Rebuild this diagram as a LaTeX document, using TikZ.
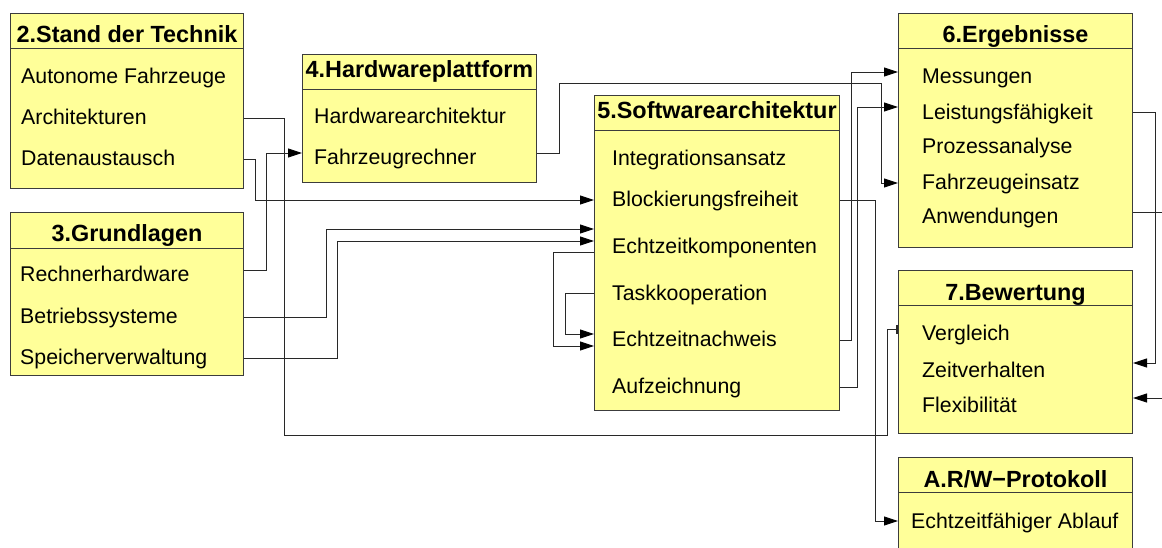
\documentclass[tikz,border=0pt]{standalone}
\usepackage{fontspec}
\setmainfont{Liberation Sans}
\usetikzlibrary{arrows.meta}
\definecolor{boxfill}{RGB}{255,255,153}
\definecolor{boxline}{RGB}{60,60,60}
\definecolor{conncol}{RGB}{40,40,40}
\begin{document}
\begin{tikzpicture}[x=1pt,y=-1pt,
  box/.style={draw=boxline, fill=boxfill, line width=1pt, anchor=north west, inner sep=0pt},
  sepline/.style={draw=boxline, line width=1pt},
  title/.style={anchor=base, inner sep=0pt, font=\fontsize{23.4}{26}\selectfont\bfseries},
  item/.style={anchor=base west, inner sep=0pt, font=\fontsize{21.3}{24}\selectfont},
  conn/.style={draw=conncol, line width=0.9pt},
  arr/.style={conn, -{Triangle[length=14pt,width=9pt,color=black]}},
  barend/.style={conn, -{Bar[width=9pt,line width=2pt]}}
]
\useasboundingbox (0,0) rectangle (1162,547);
\clip (0,0) rectangle (1162,547);

% Box 2
\node[box, minimum width=233pt, minimum height=175pt] (b2) at (10,13) {};
\draw[sepline] (b2.west |- 0,48) -- (b2.east |- 0,48);
\node[title] (t2) at (b2.north |- 0,42) {2.Stand der Technik};
\node[item] (b2a) at (21,83) {Autonome Fahrzeuge};
\node[item] (b2b) at (21,124) {Architekturen};
\node[item] (b2c) at (21,165) {Datenaustausch};

% Box 3
\node[box, minimum width=233pt, minimum height=163pt] (b3) at (10,212) {};
\draw[sepline] (b3.west |- 0,248) -- (b3.east |- 0,248);
\node[title] (t3) at (b3.north |- 0,241) {3.Grundlagen};
\node[item] (b3a) at (20,281) {Rechnerhardware};
\node[item] (b3b) at (20,323) {Betriebssysteme};
\node[item] (b3c) at (20,364) {Speicherverwaltung};

% Box 4
\node[box, minimum width=234pt, minimum height=128pt] (b4) at (302,54) {};
\draw[sepline] (b4.west |- 0,89) -- (b4.east |- 0,89);
\node[title] (t4) at (b4.north |- 0,77) {4.Hardwareplattform};
\node[item] (b4a) at (314,123) {Hardwarearchitektur};
\node[item] (b4b) at (314,164) {Fahrzeugrechner};

% Box 5
\node[box, minimum width=245pt, minimum height=315pt] (b5) at (594,95) {};
\draw[sepline] (b5.west |- 0,130) -- (b5.east |- 0,130);
\node[title] (t5) at (b5.north |- 0,118) {5.Softwarearchitektur};
\node[item] (b5a) at (612,165) {Integrationsansatz};
\node[item] (b5b) at (612,206) {Blockierungsfreiheit};
\node[item] (b5c) at (612,253) {Echtzeitkomponenten};
\node[item] (b5d) at (612,300) {Taskkooperation};
\node[item] (b5e) at (612,346) {Echtzeitnachweis};
\node[item] (b5f) at (612,393) {Aufzeichnung};

% Box 6
\node[box, minimum width=234pt, minimum height=234pt] (b6) at (898,13) {};
\draw[sepline] (b6.west |- 0,48) -- (b6.east |- 0,48);
\node[title] (t6) at (b6.north |- 0,42) {6.Ergebnisse};
\node[item] (b6a) at (922,83) {Messungen};
\node[item] (b6b) at (922,119) {Leistungsfähigkeit};
\node[item] (b6c) at (922,153) {Prozessanalyse};
\node[item] (b6d) at (922,189) {Fahrzeugeinsatz};
\node[item] (b6e) at (922,223) {Anwendungen};

% Box 7
\node[box, minimum width=234pt, minimum height=163pt] (b7) at (898,270) {};
\draw[sepline] (b7.west |- 0,305) -- (b7.east |- 0,305);
\node[title] (t7) at (b7.north |- 0,300) {7.Bewertung};
\node[item] (b7a) at (922,340) {Vergleich};
\node[item] (b7b) at (922,377) {Zeitverhalten};
\node[item] (b7c) at (922,412) {Flexibilität};

% Box A
\node[box, minimum width=234pt, minimum height=110pt] (bA) at (898,457) {};
\draw[sepline] (bA.west |- 0,492) -- (bA.east |- 0,492);
\node[title] (tA) at (bA.north |- 0,487) {A.R/W−Protokoll};
\node[item] (bAa) at (911,528) {Echtzeitfähiger Ablauf};

% free ends at the right border
\coordinate (eAnw) at (1162,212);
\coordinate (eFlex) at (1162,398);

% Connectors
\draw[barend] (b2.east |- 0,118) -| (284,435) -| (887,329) -- (b7.west |- 0,329);
\draw[arr] (b2.east |- 0,159) -| (255,200) -- (b5.west |- 0,200);
\draw[arr] (b3.east |- 0,270) -| (266,153) -- (b4.west |- 0,153);
\draw[arr] (b3.east |- 0,317) -| (326,229) -- (b5.west |- 0,229);
\draw[arr] (b3.east |- 0,358) -| (337,241) -- (b5.west |- 0,241);
\draw[arr] (b5.west |- 0,252) -| (553,346) -- (b5.west |- 0,346);
\draw[arr] (b5.west |- 0,293) -| (565,334) -- (b5.west |- 0,334);
\draw[arr] (b4.east |- 0,153) -| (559,83) -| (881,183) -- (b6.west |- 0,183);
\draw[arr] (b5.east |- 0,340) -| (851,72) -- (b6.west |- 0,72);
\draw[arr] (b5.east |- 0,387) -| (857,107) -- (b6.west |- 0,107);
\draw[arr] (b5.east |- 0,200) -| (875,521) -- (bA.west |- 0,521);
\draw[arr] (b6.east |- 0,112) -| (1155,363) -- (b7.east |- 0,363);
\draw[conn] (b6.east |- 0,212) -- (eAnw);
\draw[arr] (eFlex) -- (b7.east |- 0,398);
\end{tikzpicture}
\end{document}
